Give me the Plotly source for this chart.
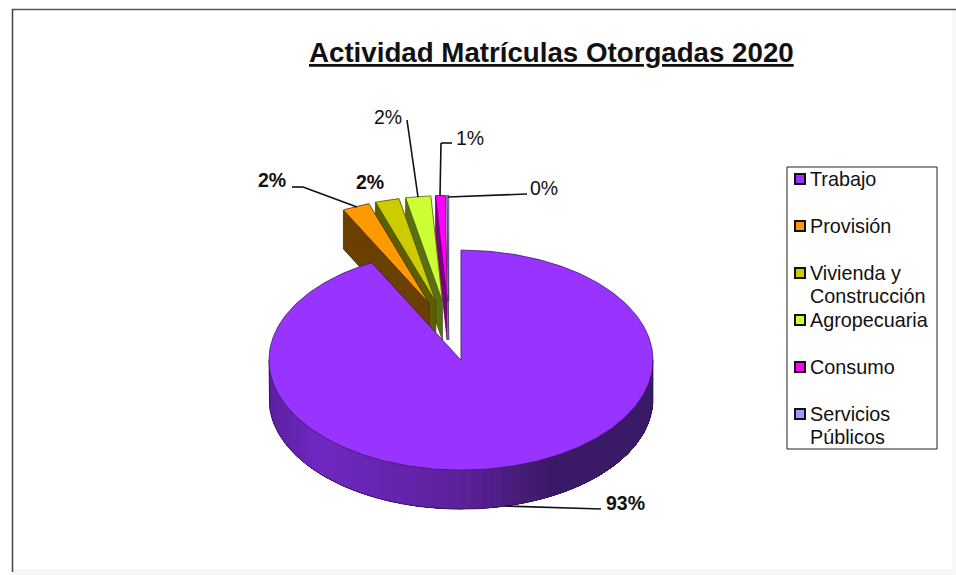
import math
import plotly.graph_objects as go

# ---- data ----
categories = ["Trabajo", "Provisión", "Vivienda y Construcción", "Agropecuaria", "Consumo", "Servicios Públicos"]
values = [92.3, 2.4, 2.1, 2.2, 0.85, 0.15]
pct_labels = ["93%", "2%", "2%", "2%", "1%", "0%"]
legend_lines = [["Trabajo"], ["Provisión"], ["Vivienda y", "Construcción"], ["Agropecuaria"], ["Consumo"], ["Servicios", "Públicos"]]

# ---- style ----
face_colors = ["#9933FF", "#FF9900", "#CCCC00", "#CCFF33", "#FF00FF", "#9999FF"]
wall_colors = ["#3A1A66", "#6B3F00", "#5E5E00", "#5A6E14", "#7F007F", "#55558A"]
edge_colors = ["#3A1A66", "#4A2C00", "#4A4A00", "#4A5A10", "#5F005F", "#444470"]
side_stops = [(0.0, (92, 32, 160)), (0.12, (112, 40, 194)), (0.5, (92, 32, 153)), (0.72, (58, 26, 102)), (1.0, (58, 26, 102))]

FONT = "Liberation Sans, Arial, sans-serif"
RX, RY, DEPTH = 192, 110, 39
CX, CY = 449, 331
EX, EY = 50, 30
SMALL_SCALE = 0.96

fig = go.Figure()


def wedge_arc(ax, ay, a0, a1, scale, dy=0):
    n = max(2, int(abs(a1 - a0)) + 2)
    xs, ys = [], []
    for i in range(n):
        a = math.radians(a0 + (a1 - a0) * i / (n - 1))
        xs.append(ax + scale * RX * math.sin(a))
        ys.append(ay - scale * RY * math.cos(a) + dy)
    return xs, ys


def poly(xs, ys, fill, line, name, width=0.8, hover=True):
    fig.add_trace(go.Scatter(
        x=xs, y=ys, mode="lines", fill="toself", fillcolor=fill,
        line=dict(color=line, width=width), name=name, showlegend=False,
        hoverinfo="name" if hover else "skip"))


total = sum(values)
spans = []
acc = 0.0
for v in values:
    spans.append((acc / total * 360, (acc + v) / total * 360))
    acc += v


def apex_of(i):
    mid = math.radians((spans[i][0] + spans[i][1]) / 2)
    return CX + EX * math.sin(mid), CY - EY * math.cos(mid)


# small slices: right to left, so each face hides its neighbour's wall
for i in range(len(values) - 1, 0, -1):
    a0, a1 = spans[i]
    ax, ay = apex_of(i)
    ox, oy = wedge_arc(ax, ay, a0, a0, SMALL_SCALE)
    poly([ox[0], ax, ax, ox[0], ox[0]], [oy[0], ay, ay + DEPTH, oy[0] + DEPTH, oy[0]],
         wall_colors[i], edge_colors[i], categories[i])
    xs, ys = wedge_arc(ax, ay, a0, a1, SMALL_SCALE)
    poly([ax] + xs + [ax], [ay] + ys + [ay], face_colors[i], edge_colors[i], categories[i])

# main slice: rim with shaded segments, then its top face
a0, a1 = spans[0]
ax, ay = apex_of(0)


def side_color(t):
    for (t0, c0), (t1, c1) in zip(side_stops, side_stops[1:]):
        if t <= t1:
            f = (t - t0) / (t1 - t0)
            return "rgb(%d,%d,%d)" % tuple(round(p + (q - p) * f) for p, q in zip(c0, c1))
    return "rgb(58,26,102)"


N_SEG = 60
for k in range(N_SEG):
    # every band runs to the right end of the rim; the next band paints over it, so no seams
    s0 = 270 - 180 * k / N_SEG
    xt, yt = wedge_arc(ax, ay, s0, 90, 1)
    xb, yb = wedge_arc(ax, ay, 90, s0, 1, DEPTH)
    col = side_color((xt[0] - (ax - RX)) / (2 * RX))
    fig.add_trace(go.Scatter(x=xt + xb, y=yt + yb, mode="lines", fill="toself", fillcolor=col,
                             line=dict(width=0, color=col), showlegend=False, hoverinfo="skip"))
xb, yb = wedge_arc(ax, ay, 270, 90, 1, DEPTH)
fig.add_trace(go.Scatter(x=[ax - RX] + xb + [ax + RX], y=[ay] + yb + [ay], mode="lines",
                         line=dict(color="#2E1450", width=0.8), showlegend=False, hoverinfo="skip"))
xs, ys = wedge_arc(ax, ay, a0, a1, 1)
poly([ax] + xs + [ax], [ay] + ys + [ay], face_colors[0], "#3A1A66", categories[0])

# ---- legend key ----
LEG_X, LEG_Y0, LEG_STEP, LINE_H = 800, 179, 47, 23
fig.add_trace(go.Scatter(
    x=[LEG_X] * len(categories), y=[LEG_Y0 + LEG_STEP * i for i in range(len(categories))],
    mode="markers", marker=dict(symbol="square", size=10, color=face_colors, line=dict(color="#111111", width=2)),
    showlegend=False, hoverinfo="skip"))

annotations = []


def text(x, y, s, size=19.5, anchor="center", bold=False):
    annotations.append(dict(x=x, y=y, xref="x", yref="y", text=f"<b>{s}</b>" if bold else s, showarrow=False,
                            xanchor=anchor, yanchor="middle", font=dict(family=FONT, size=size, color="#111111")))


for i, lines in enumerate(legend_lines):
    for j, line in enumerate(lines):
        text(LEG_X + 8, LEG_Y0 + LEG_STEP * i + LINE_H * j, line, size=19.8, anchor="left")

# ---- percentage labels ----
label_pos = [(625, 503, True), (272, 180, True), (370, 182, True), (388, 117, False), (470, 138, False), (544, 188, False)]
for s, (x, y, b) in zip(pct_labels, label_pos):
    text(x, y, s, bold=b)
text(551, 52, "<u>Actividad Matrículas Otorgadas 2020</u>", size=27.7, bold=True)

leaders = [
    [(505, 506), (601, 509)],
    [(292, 187), (303, 187), (357, 207)],
    [(407, 120), (418, 197)],
    [(452, 143), (441, 143), (440, 196)],
    [(527, 194), (448, 197)],
]
shapes = []
for pts in leaders:
    for (x0, y0), (x1, y1) in zip(pts, pts[1:]):
        shapes.append(dict(type="line", x0=x0, y0=y0, x1=x1, y1=y1, xref="x", yref="y",
                           line=dict(color="#111111", width=1.6)))
# legend box and outer frame
shapes.append(dict(type="rect", x0=787, y0=167, x1=937, y1=449, xref="x", yref="y",
                   line=dict(color="#222222", width=1), fillcolor="rgba(0,0,0,0)"))
shapes.append(dict(type="rect", x0=12, y0=569, x1=956, y1=575, xref="x", yref="y", line=dict(width=0), fillcolor="#F6F6F6"))
shapes.append(dict(type="rect", x0=952, y0=9, x1=956, y1=575, xref="x", yref="y", line=dict(width=0), fillcolor="#F8F8F8"))
shapes.append(dict(type="line", x0=12, y0=9.5, x1=956, y1=9.5, xref="x", yref="y", line=dict(color="#555555", width=1.5)))
shapes.append(dict(type="line", x0=12.5, y0=9, x1=12.5, y1=572, xref="x", yref="y", line=dict(color="#444444", width=1.5)))

fig.update_layout(
    width=956, height=575, margin=dict(l=0, r=0, t=0, b=0, autoexpand=False),
    paper_bgcolor="white", plot_bgcolor="white", showlegend=False,
    xaxis=dict(range=[0, 956], visible=False, fixedrange=True),
    yaxis=dict(range=[575, 0], visible=False, fixedrange=True),
    annotations=annotations, shapes=shapes,
)
fig.write_html("out.html", post_script="document.body.style.margin='0';", config={"displayModeBar": False})
